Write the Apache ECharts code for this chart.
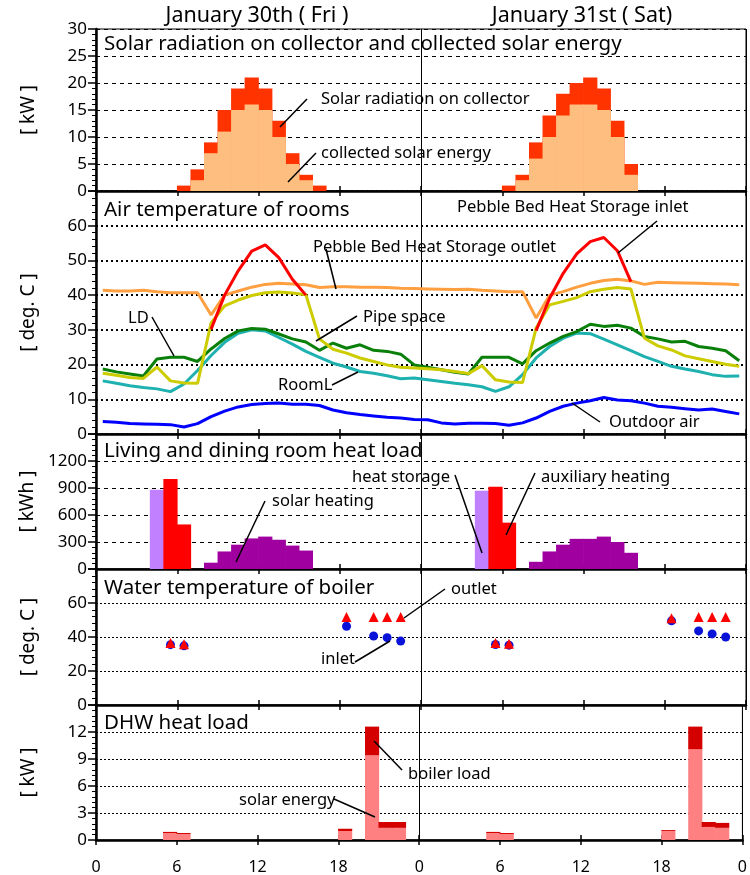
<!DOCTYPE html>
<html>
<head>
<meta charset="utf-8">
<script src="https://cdn.jsdelivr.net/npm/echarts@6/dist/echarts.min.js"></script>
<style>
  html, body { margin: 0; padding: 0; background: #fff; }
  #chart { width: 750px; height: 875px; }
</style>
</head>
<body>
<div id="chart"></div>
<script>
// hourly slots over the two days (bar h spans h..h+1, line points sit at h+0.5)
var hourSlots = []
for (var h = 0; h < 48; h++) hourSlots.push(h)

// solar radiation on collector / collected solar energy [kW]
var sunHours = [6, 7, 8, 9, 10, 11, 12, 13, 14, 15, 16, 30, 31, 32, 33, 34, 35, 36, 37, 38, 39]
var solarRadiation = [1, 4, 9, 15, 19, 21, 19, 13, 7, 3, 1, 1, 3, 9, 14, 18, 20, 21, 19, 13, 5]
var collectedSolar = [0, 2, 7, 11, 15, 16, 15, 10, 5, 2, 0, 0, 2, 6, 10, 14, 16, 16, 15, 10, 3]

// air temperatures [deg. C]
var outdoorAir = [3.6,3.4,3.0,2.9,2.8,2.7,2.0,3.0,5.0,6.6,7.8,8.5,8.8,8.9,8.6,8.6,8.2,6.9,6.1,5.6,5.2,4.8,4.6,4.2,
                  4.1,3.2,2.9,3.1,3.1,3.0,2.5,3.2,4.6,6.5,8.0,8.9,9.6,10.5,9.8,9.6,8.9,8.0,7.7,7.3,6.9,7.2,6.5,5.8]
var pebbleOutlet = [41.4,41.2,41.2,41.4,41.0,40.7,40.7,40.7,34.3,40.0,41.2,42.3,43.1,43.4,43.2,43.0,42.2,42.4,42.4,42.3,42.3,42.2,42.0,41.9,
                    41.8,41.7,41.6,41.7,41.4,41.2,41.0,41.0,33.4,40.0,41.0,42.3,43.4,44.2,44.6,44.1,43.1,43.7,43.6,43.5,43.4,43.3,43.2,43.0]
var pebbleInlet = [null,null,null,null,null,null,null,null,30.2,40.0,47.0,52.7,54.5,50.8,44.6,40.0,null,null,null,null,null,null,null,null,
                   null,null,null,null,null,null,null,null,29.8,39.1,46.3,51.9,55.4,56.6,52.8,43.9,null,null,null,null,null,null,null,null]
var pipeSpace = [17.5,16.9,16.3,16.0,19.3,15.3,14.7,14.6,32.0,36.9,38.6,39.9,40.7,40.9,40.6,40.1,27.4,24.4,23.3,21.9,20.9,19.9,19.2,19.0,
                 18.8,18.5,18.0,17.4,19.7,15.6,15.0,14.8,30.5,37.2,38.2,39.3,41.0,41.7,42.2,41.8,27.6,25.4,24.2,22.5,21.7,20.9,20.1,19.5]
var livingDining = [18.7,17.9,17.3,16.7,21.6,22.1,22.1,20.9,24.5,27.5,29.7,30.4,30.2,28.8,27.4,26.5,24.1,26.2,24.7,25.7,24.1,23.8,23.0,19.9,
                    19.2,18.5,17.8,17.3,22.1,22.1,22.1,20.2,24.0,26.2,28.1,29.5,31.6,31.0,31.3,30.5,28.1,27.4,26.5,26.7,25.2,24.7,24.0,21.1]
var roomL = [15.3,14.6,13.9,13.4,13.0,12.2,14.4,18.3,22.6,26.4,29.0,30.0,29.7,27.8,25.9,23.8,22.1,20.4,19.3,18.0,17.5,16.8,15.9,16.1,
             15.6,15.1,14.6,14.2,13.6,12.3,13.6,17.1,21.9,25.2,27.6,29.1,28.9,27.3,25.7,24.0,22.3,20.9,19.5,18.7,18.0,17.1,16.6,16.7]

// living and dining room heat load [kWh]
var heatStorageHours = [4, 28]
var heatStorage = [880, 870]
var auxHeatingHours = [5, 6, 29, 30]
var auxHeating = [1000, 495, 915, 515]
var solarHeatingHours = [8, 9, 10, 11, 12, 13, 14, 15, 32, 33, 34, 35, 36, 37, 38, 39]
var solarHeating = [70, 195, 270, 340, 360, 325, 260, 205, 80, 195, 270, 335, 335, 360, 300, 180]

// water temperature of boiler [deg. C]
var boilerHours = [5, 6, 18, 20, 21, 22, 29, 30, 42, 44, 45, 46]
var boilerInlet = [35.5, 34.8, 46.3, 40.6, 39.6, 37.6, 35.6, 35.2, 49.5, 43.6, 41.8, 40.0]
var boilerOutlet = [36.5, 35.8, 51.8, 51.8, 51.8, 51.8, 36.4, 36.0, 51.0, 51.8, 51.8, 51.8]

// DHW heat load [kW]
var dhwHours = [5, 6, 18, 20, 21, 22, 29, 30, 42, 44, 45, 46]
var dhwSolar = [0.78, 0.67, 1.0, 9.4, 1.35, 1.35, 0.78, 0.67, 1.0, 10.1, 1.45, 1.35]
var dhwBoiler = [0.12, 0.11, 0.25, 3.2, 0.65, 0.65, 0.12, 0.11, 0.1, 2.5, 0.55, 0.55]

// place sparse hourly values on the 48 slots, leaving the rest empty
function spread(hours, values) {
  var out = hourSlots.map(function() { return null })
  hours.forEach(function(hr, i) { out[hr] = values[i] || null })
  return out
}

var FONT = '"Noto Sans", "DejaVu Sans", sans-serif'

var panels = [
  { top: 29, height: 162, max: 30, interval: 5, name: '[ kW ]', dash: [4, 4], dashWidth: 1 },
  { top: 191, height: 243, max: 70, interval: 10, name: '[ deg. C ]', dash: [2, 3], dashWidth: 2 },
  { top: 434, height: 135, max: 1500, interval: 300, name: '[ kWh ]', dash: [4, 4], dashWidth: 1 },
  { top: 569, height: 136, max: 80, interval: 20, name: '[ deg. C ]', dash: [2, 2], dashWidth: 1 },
  { top: 705, height: 135, max: 15, interval: 3, name: '[ kW ]', dash: [2, 2], dashWidth: 1 }
]

var grid = [], xAxis = [], yAxis = []
panels.forEach(function(p, i) {
  var last = i === panels.length - 1
  grid.push({ left: 96, width: 650, top: p.top, height: p.height, show: true, borderColor: '#000', borderWidth: 1 })
  // hidden category axis that carries the data
  xAxis.push({ type: 'category', gridIndex: i, data: hourSlots, boundaryGap: true, show: false })
  // hour axis, ticks inside
  xAxis.push({
    type: 'value', gridIndex: i, position: 'bottom', min: 0, max: 48, interval: 6,
    axisLine: { onZero: false, lineStyle: { color: '#000', width: 2.5 } },
    axisTick: { inside: true, length: 5, lineStyle: { color: '#000', width: 1.5 } },
    axisLabel: {
      show: last, margin: 19, color: '#000', fontSize: 16, fontFamily: FONT,
      formatter: function(v) { return String(v % 24) }
    },
    splitLine: { show: false }
  })
  // hour axis, ticks outside
  xAxis.push({
    type: 'value', gridIndex: i, position: 'bottom', min: 0, max: 48, interval: 6,
    axisLine: { show: false, onZero: false },
    axisTick: { inside: false, length: 5, lineStyle: { color: '#000', width: 1.5 } },
    axisLabel: { show: false },
    splitLine: { show: false }
  })
  // midnight divider
  xAxis.push({
    type: 'value', gridIndex: i, position: 'top', min: 0, max: 48, interval: 24,
    axisLine: { show: false }, axisTick: { show: false }, axisLabel: { show: false },
    splitLine: { show: true, lineStyle: { color: '#000', width: 1 } }
  })
  yAxis.push({
    type: 'value', gridIndex: i, min: 0, max: p.max, interval: p.interval,
    name: p.name, nameLocation: 'middle', nameGap: 58,
    nameTextStyle: { color: '#000', fontSize: 19, fontFamily: FONT },
    axisLine: { show: true, onZero: false, lineStyle: { color: '#000', width: 2.5 } },
    axisTick: { show: true, length: 8, lineStyle: { color: '#000', width: 1.5 } },
    minorTick: { show: true, splitNumber: 5, length: 4, lineStyle: { color: '#000', width: 1 } },
    axisLabel: {
      color: '#000', fontSize: 17, fontFamily: FONT, margin: 9, showMaxLabel: i === 0,
      formatter: function(v) { return String(v) }
    },
    splitLine: { show: true, lineStyle: { color: '#000', type: p.dash, width: p.dashWidth } }
  })
})

// bars slightly wider than the hour band so neighbours meet without seams
var BAR_W = '105%'

function barStyle(color) {
  return { color: color, borderWidth: 0, borderColor: color, borderRadius: 0, opacity: 1 }
}

function lineSeries(name, data, color) {
  return {
    name: name, type: 'line', xAxisIndex: 4, yAxisIndex: 1, data: data,
    symbol: 'none', lineStyle: { color: color, width: 3 }, itemStyle: { color: color }
  }
}

function barSeries(name, xi, yi, data, color, extra) {
  var s = { name: name, type: 'bar', xAxisIndex: xi, yAxisIndex: yi, data: data,
    barWidth: BAR_W, itemStyle: barStyle(color) }
  for (var k in extra) s[k] = extra[k]
  return s
}

var series = [
  barSeries('Solar radiation on collector', 0, 0, spread(sunHours, solarRadiation), '#ff3300', { barGap: '-100%' }),
  barSeries('collected solar energy', 0, 0, spread(sunHours, collectedSolar), '#fdbe80', { barGap: '-100%' }),

  lineSeries('Outdoor air', outdoorAir, '#0000ff'),
  lineSeries('RoomL', roomL, '#1fb0b0'),
  lineSeries('LD', livingDining, '#0a800a'),
  lineSeries('Pipe space', pipeSpace, '#cccc00'),
  lineSeries('Pebble Bed Heat Storage outlet', pebbleOutlet, '#ff9f40'),
  lineSeries('Pebble Bed Heat Storage inlet', pebbleInlet, '#ff0000'),

  barSeries('heat storage', 8, 2, spread(heatStorageHours, heatStorage), '#c080ff', { barGap: '-100%' }),
  barSeries('auxiliary heating', 8, 2, spread(auxHeatingHours, auxHeating), '#ff0000', { barGap: '-100%' }),
  barSeries('solar heating', 8, 2, spread(solarHeatingHours, solarHeating), '#a000a0', { barGap: '-100%' }),

  { name: 'inlet', type: 'scatter', xAxisIndex: 12, yAxisIndex: 3, data: spread(boilerHours, boilerInlet),
    symbol: 'circle', symbolSize: 9, itemStyle: { color: '#0a14d8', opacity: 1 } },
  { name: 'outlet', type: 'scatter', xAxisIndex: 12, yAxisIndex: 3, data: spread(boilerHours, boilerOutlet),
    symbol: 'triangle', symbolSize: 10, itemStyle: { color: '#ff0000', opacity: 1 } },

  barSeries('solar energy', 16, 4, spread(dhwHours, dhwSolar), '#ff8080', { stack: 'dhw' }),
  barSeries('boiler load', 16, 4, spread(dhwHours, dhwBoiler), '#d40000', { stack: 'dhw' })
]

function txt(text, x, y, size, align) {
  return {
    type: 'text', x: x, y: y, z: 100,
    style: {
      text: text, font: size + 'px ' + FONT, fill: '#000',
      align: align || 'left', verticalAlign: 'middle',
      textAlign: align || 'left', textVerticalAlign: 'middle'
    }
  }
}
function leader(x1, y1, x2, y2) {
  return { type: 'line', z: 100, shape: { x1: x1, y1: y1, x2: x2, y2: y2 }, style: { stroke: '#000', lineWidth: 1.5 } }
}

var NOTE = 16.5, HEAD = 20.5

var graphic = [
  txt('January 30th ( Fri )', 257, 16, 21.5, 'center'),
  txt('January 31st ( Sat)', 582, 16, 21.5, 'center'),

  txt('Solar radiation on collector and collected solar energy', 104, 44, HEAD),
  txt('Solar radiation on collector', 321, 99, NOTE),
  leader(307, 99, 280, 127),
  txt('collected solar energy', 321, 153, NOTE),
  leader(316, 153, 288, 182),

  txt('Air temperature of rooms', 104, 210, HEAD),
  txt('Pebble Bed Heat Storage inlet', 457, 207, NOTE),
  leader(657, 221, 618, 253),
  txt('Pebble Bed Heat Storage outlet', 313, 247, NOTE),
  leader(326, 249, 336, 289),
  txt('LD', 128, 318, NOTE),
  leader(152, 317, 174, 356),
  txt('Pipe space', 363, 317, NOTE),
  leader(357, 316, 316, 341),
  txt('RoomL', 278, 385, NOTE),
  leader(332, 385, 358, 372),
  txt('Outdoor air', 609, 422, NOTE),
  leader(600, 422, 572, 403),

  txt('Living and dining room heat load', 104, 451, HEAD),
  txt('heat storage', 352, 477, NOTE),
  leader(455, 475, 482, 553),
  txt('auxiliary heating', 541, 477, NOTE),
  leader(535, 473, 506, 535),
  txt('solar heating', 272, 501, NOTE),
  leader(265, 501, 236, 562),

  txt('Water temperature of boiler', 104, 588, HEAD),
  txt('outlet', 451, 589, NOTE),
  leader(445, 589, 404, 618),
  txt('inlet', 321, 659, NOTE),
  leader(355, 662, 390, 641),

  txt('DHW heat load', 104, 723, HEAD),
  txt('boiler load', 408, 774, NOTE),
  leader(402, 770, 374, 741),
  txt('solar energy', 239, 800, NOTE),
  leader(334, 799, 375, 817)
]

var chart = echarts.init(document.getElementById('chart'))
chart.setOption({
  animation: false,
  backgroundColor: '#fff',
  grid: grid,
  xAxis: xAxis,
  yAxis: yAxis,
  series: series,
  graphic: graphic
})
</script>
</body>
</html>
